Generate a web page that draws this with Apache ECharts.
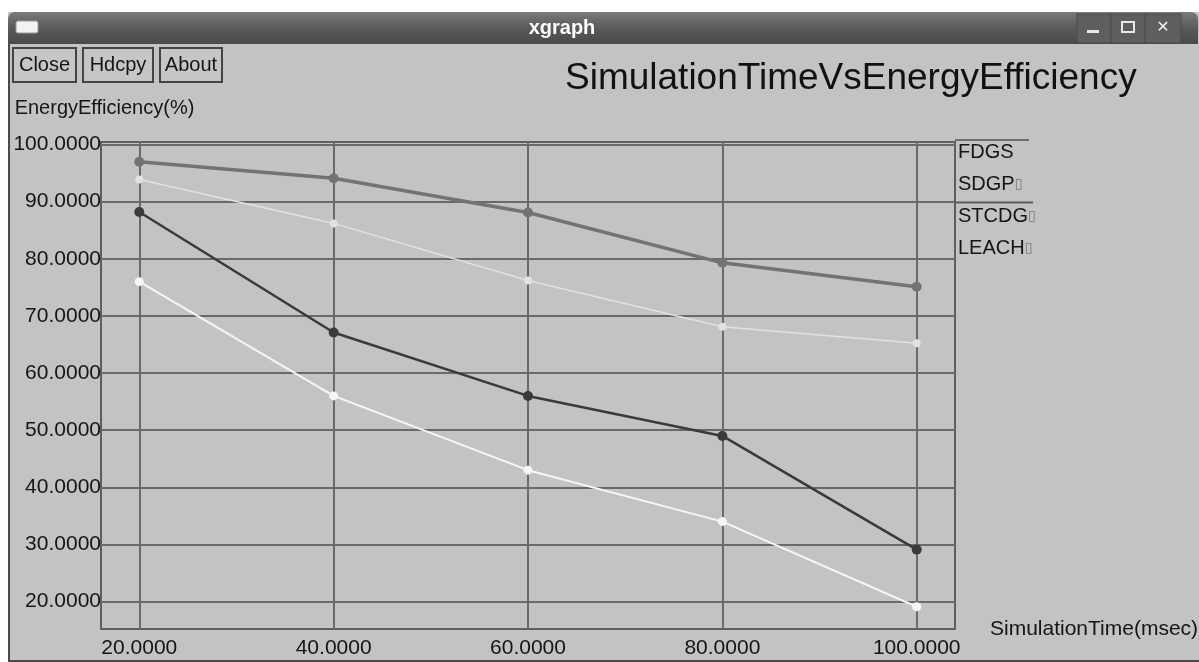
<!DOCTYPE html>
<html>
<head>
<meta charset="utf-8">
<script src="https://cdn.jsdelivr.net/npm/echarts@6/dist/echarts.min.js"></script>
<style>
html,body{margin:0;padding:0;background:#ffffff;}
#chart{width:1199px;height:662px;}
</style>
</head>
<body>
<div id="chart"></div>
<script>
// ---- data ----
const xValues = [20, 40, 60, 80, 100];
const seriesNames = ['FDGS', 'SDGP', 'STCDG', 'LEACH'];
const fdgs  = [97.0, 94.1, 88.1, 79.3, 75.1];
const sdgp  = [93.9, 86.2, 76.2, 68.1, 65.2];
const stcdg = [88.2, 67.1, 56.0, 49.0, 29.1];
const leach = [76.0, 56.0, 43.0, 34.0, 19.1];
const xTicks = [20, 40, 60, 80, 100];
const yTicks = [20, 30, 40, 50, 60, 70, 80, 90, 100];
const titleText = 'SimulationTimeVsEnergyEfficiency';
const xName = 'SimulationTime(msec)';
const yName = 'EnergyEfficiency(%)';

const FONT = '"Liberation Sans", Arial, sans-serif';
const pairs = ys => xValues.map((x, i) => [x, ys[i]]);

const styles = {
  FDGS:  {color: '#737373', width: 3.5, symbol: 'circle', size: 10},
  SDGP:  {color: '#e2e2e2', width: 1.5, symbol: 'circle', size: 8},
  STCDG: {color: '#3a3a3a', width: 2.5, symbol: 'circle', size: 10},
  LEACH: {color: '#f6f6f6', width: 2,   symbol: 'circle', size: 9}
};
const valuesByName = {FDGS: fdgs, SDGP: sdgp, STCDG: stcdg, LEACH: leach};

const chart = echarts.init(document.getElementById('chart'), null, {renderer: 'canvas'});

const option = {
  backgroundColor: '#c3c3c3',
  animation: false,
  textStyle: {fontFamily: FONT},
  title: {
    text: titleText,
    left: 565, top: 60, padding: 0,
    textStyle: {fontSize: 37, fontWeight: 'normal', color: '#111', fontFamily: FONT}
  },
  legend: {
    orient: 'vertical',
    left: 953, top: 141, padding: 0,
    itemWidth: 0, itemHeight: 10, itemGap: 10,
    icon: 'rect',
    itemStyle: {opacity: 0},
    lineStyle: {opacity: 0},
    selectedMode: false,
    data: seriesNames,
    formatter: n => n === 'FDGS' ? n : n + '{b|\u25AF}',
    textStyle: {
      fontSize: 20, lineHeight: 22, color: '#151515', fontFamily: FONT,
      rich: {b: {fontSize: 14, color: '#7a7a7a', fontFamily: 'DejaVu Sans'}}
    }
  },
  grid: {
    left: 101, right: 244, top: 142, bottom: 33,
    outerBoundsMode: 'none',
    containLabel: false,
    show: true, borderColor: '#5e5e5e', borderWidth: 2,
    backgroundColor: 'transparent'
  },
  xAxis: {
    type: 'value',
    min: 16.06, max: 103.94,
    name: xName, nameLocation: 'end', nameGap: 35,
    nameTextStyle: {fontSize: 21, color: '#151515', fontFamily: FONT},
    axisLine: {show: false},
    axisTick: {show: false, customValues: xTicks},
    axisLabel: {customValues: xTicks, formatter: v => Number(v).toFixed(4),
                margin: 9, fontSize: 21, color: '#151515', fontFamily: FONT},
    splitLine: {show: true, lineStyle: {color: '#6a6a6a', width: 2}}
  },
  yAxis: {
    type: 'value',
    min: 15.2, max: 100.45,
    name: yName, nameLocation: 'end', nameGap: 24,
    nameTextStyle: {fontSize: 20, color: '#151515', fontFamily: FONT, padding: [0, 0, 0, 7]},
    axisLine: {show: false},
    axisTick: {show: false, customValues: yTicks},
    axisLabel: {customValues: yTicks, formatter: v => Number(v).toFixed(4),
                margin: 0, fontSize: 21, color: '#151515', fontFamily: FONT},
    splitLine: {show: true, lineStyle: {color: '#6a6a6a', width: 2}}
  },
  series: seriesNames.map(n => ({
    name: n,
    type: 'line',
    data: pairs(valuesByName[n]),
    symbol: styles[n].symbol,
    symbolSize: styles[n].size,
    showSymbol: true,
    lineStyle: {color: styles[n].color, width: styles[n].width},
    itemStyle: {color: styles[n].color},
    emphasis: {disabled: true}
  })),
  graphic: [
    // white surroundings
    {type: 'rect', shape: {x: 0, y: 0, width: 1199, height: 12}, style: {fill: '#ffffff'}, silent: true},
    {type: 'rect', shape: {x: 0, y: 0, width: 8, height: 662}, style: {fill: '#ffffff'}, silent: true},
    // window left / bottom border
    {type: 'rect', shape: {x: 8, y: 44, width: 2, height: 618}, style: {fill: '#4a4a4a'}, silent: true},
    {type: 'rect', shape: {x: 8, y: 660, width: 1191, height: 2}, style: {fill: '#4a4a4a'}, silent: true},
    // title bar
    {type: 'rect', shape: {x: 8, y: 12, width: 1190, height: 32, r: [7, 7, 0, 0]},
     style: {fill: new echarts.graphic.LinearGradient(0, 0, 0, 1, [
       {offset: 0, color: '#7a7a7a'}, {offset: 0.5, color: '#5a5a5a'}, {offset: 1, color: '#4a4a4a'}])},
     silent: true},
    {type: 'rect', shape: {x: 16, y: 21, width: 22, height: 12, r: 2}, style: {fill: '#f2f2f2', stroke: '#9a9a9a', lineWidth: 1}, silent: true},
    {type: 'text', x: 562, y: 28, style: {text: 'xgraph', fill: '#ffffff', font: 'bold 20px ' + FONT, align: 'center', verticalAlign: 'middle'}, silent: true},
    // title bar buttons
    {type: 'rect', shape: {x: 1077, y: 14, width: 34, height: 29}, style: {fill: '#5e5e5e', stroke: '#4a4a4a', lineWidth: 1}, silent: true},
    {type: 'rect', shape: {x: 1111, y: 14, width: 34, height: 29}, style: {fill: '#5e5e5e', stroke: '#4a4a4a', lineWidth: 1}, silent: true},
    {type: 'rect', shape: {x: 1145, y: 14, width: 36, height: 29}, style: {fill: '#5e5e5e', stroke: '#4a4a4a', lineWidth: 1}, silent: true},
    {type: 'rect', shape: {x: 1087, y: 30, width: 12, height: 3}, style: {fill: '#e8e8e8'}, silent: true},
    {type: 'rect', shape: {x: 1122, y: 22, width: 12, height: 10}, style: {fill: 'none', stroke: '#e8e8e8', lineWidth: 2}, silent: true},
    {type: 'text', x: 1163, y: 28, style: {text: '\u2715', fill: '#f0f0f0', font: 'bold 16px "DejaVu Sans"', align: 'center', verticalAlign: 'middle'}, silent: true},
    // buttons
    {type: 'rect', shape: {x: 13, y: 48, width: 63, height: 34}, style: {fill: '#c6c6c6', stroke: '#444', lineWidth: 2}, silent: true},
    {type: 'text', x: 44.5, y: 65, style: {text: 'Close', fill: '#151515', font: '20px ' + FONT, align: 'center', verticalAlign: 'middle'}, silent: true},
    {type: 'rect', shape: {x: 83, y: 48, width: 70, height: 34}, style: {fill: '#c6c6c6', stroke: '#444', lineWidth: 2}, silent: true},
    {type: 'text', x: 118, y: 65, style: {text: 'Hdcpy', fill: '#151515', font: '20px ' + FONT, align: 'center', verticalAlign: 'middle'}, silent: true},
    {type: 'rect', shape: {x: 160, y: 48, width: 62, height: 34}, style: {fill: '#c6c6c6', stroke: '#444', lineWidth: 2}, silent: true},
    {type: 'text', x: 191, y: 65, style: {text: 'About', fill: '#151515', font: '20px ' + FONT, align: 'center', verticalAlign: 'middle'}, silent: true},
    // legend marker lines (xgraph draws a line above each label)
    {type: 'line', shape: {x1: 955, y1: 140, x2: 1029, y2: 140}, style: {stroke: '#6e6e6e', lineWidth: 2}, silent: true},
    {type: 'line', shape: {x1: 955, y1: 202.5, x2: 1033, y2: 202.5}, style: {stroke: '#5a5a5a', lineWidth: 2}, silent: true}
  ]
};
chart.setOption(option);
</script>
</body>
</html>
